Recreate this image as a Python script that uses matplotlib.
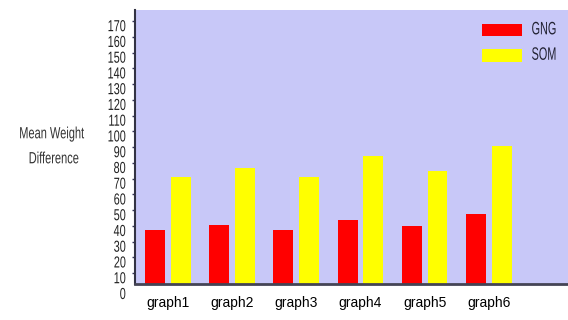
import matplotlib
matplotlib.use("Agg")
import matplotlib.pyplot as plt
import matplotlib.transforms as mtransforms
from matplotlib.patheffects import AbstractPathEffect
import numpy as np

categories = ["graph1", "graph2", "graph3", "graph4", "graph5", "graph6"]
gng = [37.5, 40.5, 37.5, 43.5, 40, 47.5]
som = [71, 77, 71, 84.5, 75, 91]
series_names = ["GNG", "SOM"]
y_ticks = list(range(0, 171, 10))
axis_base = 3.2   # value at which the category axis line is drawn

plt.rcParams["font.family"] = ["Liberation Sans", "DejaVu Sans"]


class Condensed(AbstractPathEffect):
    """Rescale glyph outlines around a horizontal anchor on the baseline."""

    def __init__(self, sx=0.7, anchor="center", sy=1.0):
        super().__init__()
        self.sx = sx
        self.sy = sy
        self.anchor = anchor

    def draw_path(self, renderer, gc, tpath, affine, rgbFace=None):
        ext = tpath.get_extents()
        if self.anchor == "right":
            a = ext.x1
        elif self.anchor == "left":
            a = ext.x0
        else:
            a = 0.5 * (ext.x0 + ext.x1)
        t = (mtransforms.Affine2D().translate(-a, 0).scale(self.sx, self.sy)
             .translate(a, 0) + affine)
        renderer.draw_path(gc, tpath, t, rgbFace)


BG = "#c8c8f8"
fig = plt.figure(figsize=(5.68, 3.2), dpi=100)
ax = fig.add_axes([135 / 568, 31 / 320, 433 / 568, 279 / 320])
ax.set_facecolor("none")
ax.set_xlim(-0.512, 6.232)
ax.set_ylim(0, 177.1)
ax.axhspan(axis_base, 177.1, color=BG, zorder=0, lw=0)

x = np.arange(len(categories))
w = 0.31
gng_h = [v - axis_base for v in gng]
som_h = [v - axis_base for v in som]
ax.bar(x - 0.2, gng_h, bottom=axis_base, width=w, color="#ff0000",
       label=series_names[0], zorder=2)
ax.bar(x + 0.2, som_h, bottom=axis_base, width=w, color="#ffff00",
       label=series_names[1], zorder=2)

ax.set_xticks(x)
ax.set_xticklabels(categories, fontsize=14, color="#2a2a2a")
ax.tick_params(axis="x", length=0, pad=8.5)
for lab in ax.get_xticklabels():
    lab.set_path_effects([Condensed(0.63, "center")])

ax.set_yticks(y_ticks)
ax.set_yticklabels([str(v) for v in y_ticks], fontsize=11.5, color="#222222")
ax.tick_params(axis="y", length=2.5, width=1, color="#333355", pad=4, direction="out")
offset = mtransforms.ScaledTranslation(0, -4 / 100, fig.dpi_scale_trans)
for lab in ax.get_yticklabels():
    lab.set_transform(lab.get_transform() + offset)
    lab.set_path_effects([Condensed(0.68, "right")])
ax.yaxis.get_major_ticks()[0].tick1line.set_visible(False)

for s in ("top", "right"):
    ax.spines[s].set_visible(False)
ax.spines["left"].set_color("#333344")
ax.spines["left"].set_linewidth(1.5)
ax.spines["left"].set_bounds(axis_base, 177.1)
ax.spines["bottom"].set_position(("data", axis_base))
ax.spines["bottom"].set_color("#444455")
ax.spines["bottom"].set_linewidth(2)

for txt, cx, by in (("Mean Weight", 51.7, 138.3), ("Difference", 54, 163.3)):
    t = fig.text(cx / 568, 1 - by / 320, txt, ha="center", va="baseline",
                 fontsize=11.7, color="#333333")
    t.set_path_effects([Condensed(0.68, "center")])

leg = ax.legend(loc="upper left", bbox_to_anchor=(481.5 / 568, 1 - 24 / 320),
                bbox_transform=fig.transFigure, frameon=False, fontsize=9,
                handlelength=3.2, handleheight=1.12, handletextpad=0.8,
                labelspacing=0.97, borderpad=0, borderaxespad=0)
for t in leg.get_texts():
    t.set_color("#222233")
    t.set_path_effects([Condensed(0.87, "left", sy=1.44)])

fig.savefig("out.png", dpi=100)
